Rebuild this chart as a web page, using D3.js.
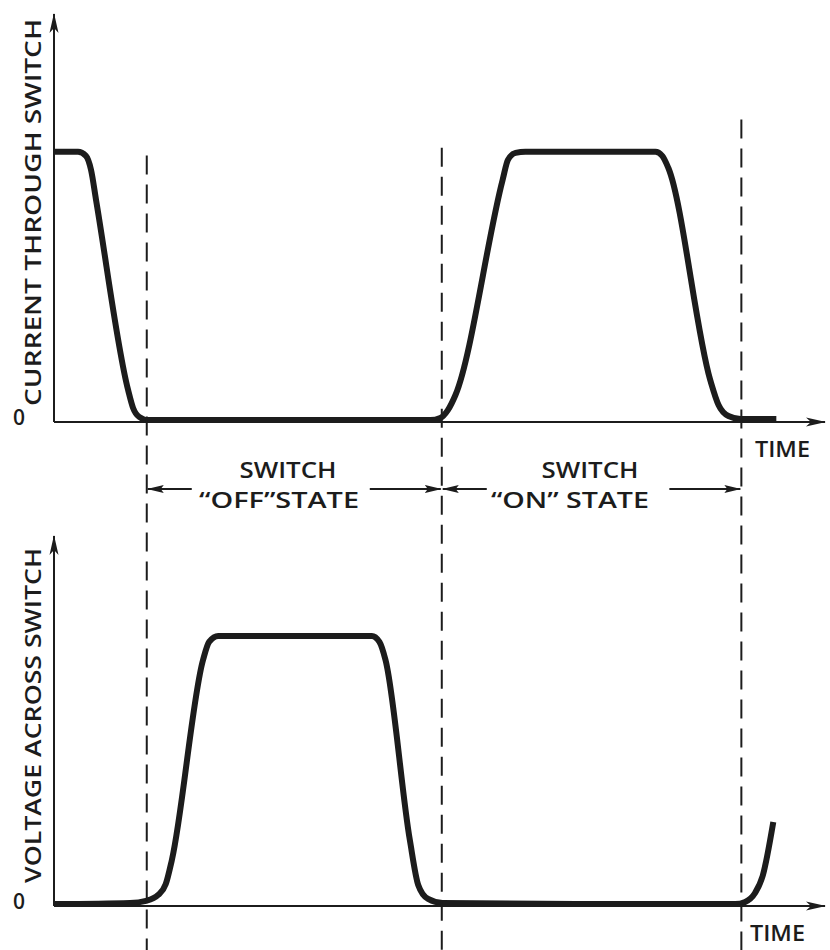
<!DOCTYPE html>
<html>
<head>
<meta charset="utf-8">
<script src="https://cdn.jsdelivr.net/npm/d3@7"></script>
<style>
  body { margin: 0; background: #fff; }
  svg { display: block; }
  .lbl { font-family: "Open Sans", "DejaVu Sans", sans-serif; font-weight: 600; fill: #1c1c1c; }
</style>
</head>
<body>
<svg id="chart"></svg>
<script>
(function () {

    var WIDTH = 830, HEIGHT = 950;
    var INK = '#1c1c1c';

    // time axis in arbitrary units, level as fraction of the "high" value
    var currentTime  = [0, 3.16, 4.2, 4.87, 5.53, 9.74, 10.4, 11.2, 12.4, 32.4, 49.5, 50.8, 51.8, 52.8, 59.0, 59.7, 60.7, 62, 79.1, 80.0, 80.8, 86.3, 87.4, 88.7, 90.3, 95.0];
    var currentLevel = [1, 1, 0.985, 0.933, 0.822, 0.119, 0.052, 0.019, 0.007, 0.007, 0.007, 0.015, 0.044, 0.1, 0.896, 0.97, 0.996, 1, 1, 0.985, 0.94, 0.156, 0.063, 0.022, 0.011, 0.011];

    var voltageTime  = [0, 10, 12.1, 13.7, 14.7, 15.5, 19.6, 20.4, 21.6, 41.8, 42.8, 43.6, 46.8, 47.9, 49.2, 51.1, 71.8, 89.6, 90.9, 92.2, 93.2, 94.6];
    var voltageLevel = [0.007, 0.011, 0.019, 0.041, 0.081, 0.17, 0.911, 0.978, 1, 1, 0.978, 0.911, 0.244, 0.078, 0.026, 0.011, 0.007, 0.007, 0.015, 0.048, 0.111, 0.311];

    // instants where the switch changes state, and how high each marker starts
    var switchTimes = [12.2, 51.0, 90.4];
    var markerTops  = [0.986, 1.015, 1.12];

    var stateLabels = [
        {from: 0, to: 1, title: 'SWITCH', sub: '\u201COFF\u201DSTATE', titleAt: 288, subAt: 279, subLen: 160},
        {from: 1, to: 2, title: 'SWITCH', sub: '\u201CON\u201D STATE', titleAt: 590, subAt: 570, subLen: 158}
    ];

    var svg = d3.select('#chart').attr('width', WIDTH).attr('height', HEIGHT);

    var defs = svg.append('defs');
    defs.append('marker').attr('id', 'axisHead')
        .attr('viewBox', '0 0 20 10').attr('refX', 19).attr('refY', 5)
        .attr('markerWidth', 20).attr('markerHeight', 10)
        .attr('markerUnits', 'userSpaceOnUse').attr('orient', 'auto')
        .append('path').attr('d', 'M0,0.5 L20,5 L0,9.5 L5,5 Z').attr('fill', INK);
    defs.append('marker').attr('id', 'dimHead')
        .attr('viewBox', '0 0 17 9').attr('refX', 16).attr('refY', 4.5)
        .attr('markerWidth', 17).attr('markerHeight', 9)
        .attr('markerUnits', 'userSpaceOnUse').attr('orient', 'auto')
        .append('path').attr('d', 'M0,0.5 L17,4.5 L0,8.5 L3,4.5 Z').attr('fill', INK);

    var x = d3.scaleLinear().domain([0, 101.4]).range([54, 825]);
    var yTop = d3.scaleLinear().domain([0, 1.51]).range([422, 14]);
    var yBot = d3.scaleLinear().domain([0, 1.37]).range([906, 536]);

    function drawPanel(y, times, levels, axisTitle, titleLen, timeX) {
        var g = svg.append('g');
        var y0 = y(0), yMax = y.domain()[1];

        g.append('line').attr('x1', x(0)).attr('y1', y0).attr('x2', x(0)).attr('y2', y(yMax))
            .attr('stroke', INK).attr('stroke-width', 2).attr('marker-end', 'url(#axisHead)');
        g.append('line').attr('x1', x(0)).attr('y1', y0).attr('x2', x(x.domain()[1])).attr('y2', y0)
            .attr('stroke', INK).attr('stroke-width', 2).attr('marker-end', 'url(#axisHead)');

        var pts = times.map(function (t, i) { return {t: t, v: levels[i]}; });
        var line = d3.line()
            .x(function (d) { return x(d.t); })
            .y(function (d) { return y(d.v); })
            .curve(d3.curveMonotoneX);
        g.append('path').datum(pts).attr('d', line)
            .attr('fill', 'none').attr('stroke', INK).attr('stroke-width', 6)
            .attr('stroke-linejoin', 'round').attr('stroke-linecap', 'butt');

        var cy = (y0 - 15 + y(yMax) + 4) / 2;
        g.append('text').attr('class', 'lbl')
            .attr('transform', 'translate(41,' + cy + ') rotate(-90)')
            .attr('text-anchor', 'middle')
            .attr('textLength', titleLen).attr('lengthAdjust', 'spacingAndGlyphs')
            .style('font-size', '22px')
            .text(axisTitle);
        g.append('text').attr('class', 'lbl')
            .attr('x', 19).attr('y', y0 + 3)
            .attr('text-anchor', 'middle')
            .style('font-size', '21px')
            .text('0');

        g.append('text').attr('class', 'lbl')
            .attr('x', timeX).attr('y', y0 + 35)
            .attr('textLength', 55).attr('lengthAdjust', 'spacingAndGlyphs')
            .style('font-size', '21px')
            .text('TIME');
        return g;
    }

    drawPanel(yTop, currentTime, currentLevel, 'CURRENT THROUGH SWITCH', 387, 755);
    drawPanel(yBot, voltageTime, voltageLevel, 'VOLTAGE ACROSS SWITCH', 335, 750);

    // dashed markers at the switching instants
    svg.append('g').selectAll('line').data(switchTimes).join('line')
        .attr('x1', function (d) { return x(d); })
        .attr('x2', function (d) { return x(d); })
        .attr('y1', function (d, i) { return yTop(markerTops[i]); })
        .attr('y2', HEIGHT)
        .attr('stroke', INK).attr('stroke-width', 2)
        .attr('stroke-dasharray', '19,10');

    // state labels between the two plots
    var dimY = 489;
    stateLabels.forEach(function (s) {
        var xa = x(switchTimes[s.from]), xb = x(switchTimes[s.to]);
        var g = svg.append('g');
        g.append('line').attr('x1', xa + 45).attr('y1', dimY).attr('x2', xa + 1).attr('y2', dimY)
            .attr('stroke', INK).attr('stroke-width', 2).attr('marker-end', 'url(#dimHead)');
        g.append('line').attr('x1', xb - 72).attr('y1', dimY).attr('x2', xb - 1).attr('y2', dimY)
            .attr('stroke', INK).attr('stroke-width', 2).attr('marker-end', 'url(#dimHead)');
        g.append('text').attr('class', 'lbl').attr('x', s.titleAt).attr('y', 478)
            .attr('text-anchor', 'middle').style('font-size', '21px')
            .attr('textLength', 97).attr('lengthAdjust', 'spacingAndGlyphs')
            .text(s.title);
        g.append('text').attr('class', 'lbl').attr('x', s.subAt).attr('y', 508)
            .attr('text-anchor', 'middle').style('font-size', '21px')
            .attr('textLength', s.subLen).attr('lengthAdjust', 'spacingAndGlyphs')
            .text(s.sub);
    });
}());
</script>
</body>
</html>
